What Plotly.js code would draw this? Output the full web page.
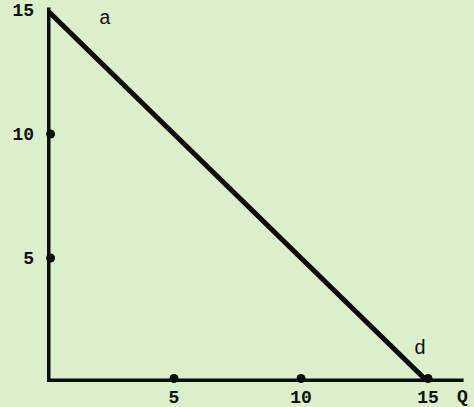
<!DOCTYPE html>
<html>
<head>
<meta charset="utf-8">
<script src="https://cdn.plot.ly/plotly-3.0.1.min.js"></script>
<style>html,body{margin:0;padding:0;background:#dbefcb;}#chart{width:474px;height:407px;}</style>
</head>
<body>
<div id="chart"></div>
<script>
// Demand line d: from P=15 at Q=0 to Q=15 at P=0
const demandQ = [0, 15];
const demandP = [15, 0];
// Axis frame
const axisQ = [0, 0, 16.4];
const axisP = [15.1, 0, 0];
// Tick marks
const tickVals = [5, 10, 15];
const tickText = ['5', '10', '15'];
const xTickDotQ = [5, 10, 15];
const yTickDotP = [5, 10];

const data = [
  {x: axisQ, y: axisP, mode: 'lines', line: {color: '#0d0d0d', width: 7}, cliponaxis: false, hoverinfo: 'skip'},
  {x: demandQ, y: demandP, mode: 'lines', line: {color: '#0d0d0d', width: 5}, cliponaxis: false, hoverinfo: 'skip'},
  {x: xTickDotQ, y: xTickDotQ.map(() => 0.14), mode: 'markers', marker: {color: '#0d0d0d', size: 9}, cliponaxis: false, hoverinfo: 'skip'},
  {x: yTickDotP.map(() => 0.14), y: yTickDotP, mode: 'markers', marker: {color: '#0d0d0d', size: 9}, cliponaxis: false, hoverinfo: 'skip'}
];

const font = {family: 'Liberation Mono, monospace', size: 18, color: '#111', weight: 'bold'};
const thin = {family: 'Liberation Mono, monospace', size: 20, color: '#111', weight: 'normal'};
const layout = {
  width: 474, height: 407,
  margin: {l: 47, r: 0, t: 0, b: 25},
  paper_bgcolor: '#dbefcb', plot_bgcolor: '#dbefcb',
  showlegend: false,
  font: font,
  xaxis: {range: [0, 16.81], tickvals: tickVals, ticktext: tickText, showgrid: false, zeroline: false, showline: false, ticks: '', ticklabelstandoff: 2, tickfont: font},
  yaxis: {range: [0, 15.4], tickvals: tickVals, ticktext: tickText, showgrid: false, zeroline: false, showline: false, ticks: '', ticklabelstandoff: 12, tickfont: font},
  annotations: [
    {x: 2.3, y: 14.65, text: 'a', showarrow: false, font: thin},
    {x: 14.7, y: 1.37, text: 'd', showarrow: false, font: thin},
    {x: 16.35, xref: 'x', y: -0.04, yref: 'paper', yanchor: 'middle', text: 'Q', showarrow: false, font: font}
  ]
};
Plotly.newPlot('chart', data, layout, {displayModeBar: false, staticPlot: true});
</script>
</body>
</html>
